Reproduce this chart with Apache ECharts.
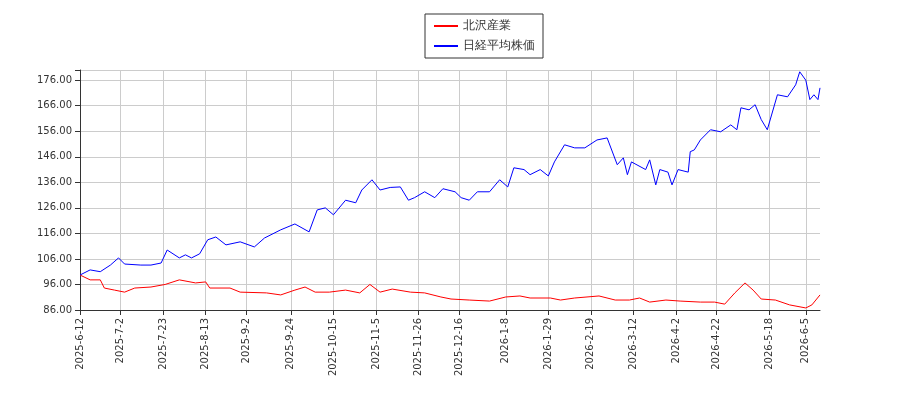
<!DOCTYPE html>
<html><head><meta charset="utf-8">
<script src="https://cdn.jsdelivr.net/npm/echarts@6/dist/echarts.min.js"></script>
<style>html,body{margin:0;background:#fff}#c{width:900px;height:400px}</style>
</head><body><div id="c"></div>
<script>
const tickLabels=["2025-6-12","2025-7-2","2025-7-23","2025-8-13","2025-9-2","2025-9-24","2025-10-15","2025-11-5","2025-11-26","2025-12-16","2026-1-8","2026-1-29","2026-2-19","2026-3-12","2026-4-2","2026-4-22","2026-5-18","2026-6-5"];
const nikkeiDates=["2025-6-12","2025-6-17","2025-6-22","2025-6-27","2025-7-1","2025-7-4","2025-7-12","2025-7-17","2025-7-22","2025-7-25","2025-7-31","2025-8-3","2025-8-6","2025-8-10","2025-8-14","2025-8-18","2025-8-23","2025-8-30","2025-9-6","2025-9-11","2025-9-19","2025-9-26","2025-10-3","2025-10-7","2025-10-11","2025-10-15","2025-10-21","2025-10-26","2025-10-29","2025-11-3","2025-11-7","2025-11-12","2025-11-17","2025-11-21","2025-11-24","2025-11-29","2025-12-4","2025-12-8","2025-12-14","2025-12-17","2025-12-21","2025-12-25","2025-12-31","2026-1-5","2026-1-9","2026-1-12","2026-1-17","2026-1-20","2026-1-25","2026-1-29","2026-2-1","2026-2-6","2026-2-11","2026-2-16","2026-2-22","2026-2-27","2026-3-4","2026-3-7","2026-3-9","2026-3-11","2026-3-18","2026-3-20","2026-3-23","2026-3-25","2026-3-29","2026-3-31","2026-4-3","2026-4-8","2026-4-9","2026-4-11","2026-4-14","2026-4-19","2026-4-24","2026-4-29","2026-5-2","2026-5-4","2026-5-8","2026-5-11","2026-5-14","2026-5-17","2026-5-22","2026-5-27","2026-5-31","2026-6-2","2026-6-5","2026-6-7","2026-6-9","2026-6-11","2026-6-12"];
const nikkeiValues=[99.7,101.7,101,103.6,106.4,104,103.6,103.6,104.4,109.5,106.4,107.6,106.4,108,113.5,114.6,111.5,112.7,110.7,114.2,117.4,119.7,116.6,125.2,126,123.3,129,128,133,137,133,134,134.2,129,130,132.3,130,133.5,132.3,130,129,132.3,132.3,137,134.2,141.7,141,139,141,138.5,144,150.7,149.5,149.5,152.6,153.4,142.9,145.6,139,144,141,144.8,135,141,140,135,141,140,148,148.7,152.6,156.6,155.8,158.5,156.6,165.2,164.4,166.4,160.6,156.6,170.3,169.5,174.2,179.3,176,168.4,170.3,168.4,173];
const kitazawaDates=["2025-6-12","2025-6-17","2025-6-22","2025-6-24","2025-6-29","2025-7-4","2025-7-9","2025-7-17","2025-7-24","2025-7-31","2025-8-8","2025-8-13","2025-8-15","2025-8-25","2025-8-30","2025-9-12","2025-9-19","2025-9-26","2025-10-1","2025-10-6","2025-10-13","2025-10-21","2025-10-28","2025-11-2","2025-11-7","2025-11-13","2025-11-22","2025-11-29","2025-12-7","2025-12-12","2025-12-21","2025-12-31","2026-1-8","2026-1-15","2026-1-20","2026-1-30","2026-2-4","2026-2-11","2026-2-23","2026-3-3","2026-3-10","2026-3-15","2026-3-20","2026-3-28","2026-4-4","2026-4-14","2026-4-21","2026-4-26","2026-5-1","2026-5-6","2026-5-10","2026-5-14","2026-5-21","2026-5-28","2026-6-5","2026-6-8","2026-6-12"];
const kitazawaValues=[99.7,97.8,97.8,94.6,93.8,93,94.6,95,96,97.8,96.6,97,94.6,94.6,93,92.7,91.9,93.8,95,93,93,93.8,92.7,96,93,94.2,93,92.7,91.1,90.3,89.9,89.5,91.1,91.5,90.7,90.7,89.9,90.7,91.5,89.9,89.9,90.7,89.1,89.9,89.5,89.1,89.1,88.3,92.7,96.6,93.8,90.3,89.9,88,86.8,88,91.9];
const categories=[];
for(let d=new Date(Date.UTC(2025,5,12));d<=new Date(Date.UTC(2026,5,12));d=new Date(d.getTime()+86400000)){
  categories.push(d.getUTCFullYear()+"-"+(d.getUTCMonth()+1)+"-"+d.getUTCDate());
}
const tickSet=new Set(tickLabels);
const show=(i,v)=>tickSet.has(v);
const chart=echarts.init(document.getElementById('c'));
chart.setOption({
  animation:false,backgroundColor:'#fff',
  legend:{orient:'vertical',top:14,left:425,itemWidth:24,itemHeight:2,borderColor:'#333',borderWidth:1,borderRadius:0,padding:[6,8],textStyle:{fontSize:12,color:'#333'},data:['北沢産業','日経平均株価']},
  grid:{left:80,right:80,top:70,bottom:90},
  xAxis:{type:'category',data:categories,boundaryGap:false,
    axisLine:{lineStyle:{color:'#333'}},
    axisTick:{interval:show,lineStyle:{color:'#333'}},
    axisLabel:{interval:show,rotate:90,fontSize:10,color:'#333',fontFamily:'DejaVu Sans'},
    splitLine:{show:true,interval:show,lineStyle:{color:'#ccc'}}},
  yAxis:{type:'value',min:86,max:180,interval:10,
    axisLine:{show:true,lineStyle:{color:'#333'}},axisTick:{show:true},
    axisLabel:{fontSize:10,color:'#333',fontFamily:'DejaVu Sans',formatter:v=>v>176?'':v.toFixed(2)},
    splitLine:{lineStyle:{color:'#ccc'}}},
  series:[
    {name:'北沢産業',type:'line',symbol:'none',color:'#ff0000',lineStyle:{width:1},data:kitazawaDates.map((d,i)=>[d,kitazawaValues[i]])},
    {name:'日経平均株価',type:'line',symbol:'none',color:'#0000ff',lineStyle:{width:1},data:nikkeiDates.map((d,i)=>[d,nikkeiValues[i]])}
  ]
});
</script></body></html>
